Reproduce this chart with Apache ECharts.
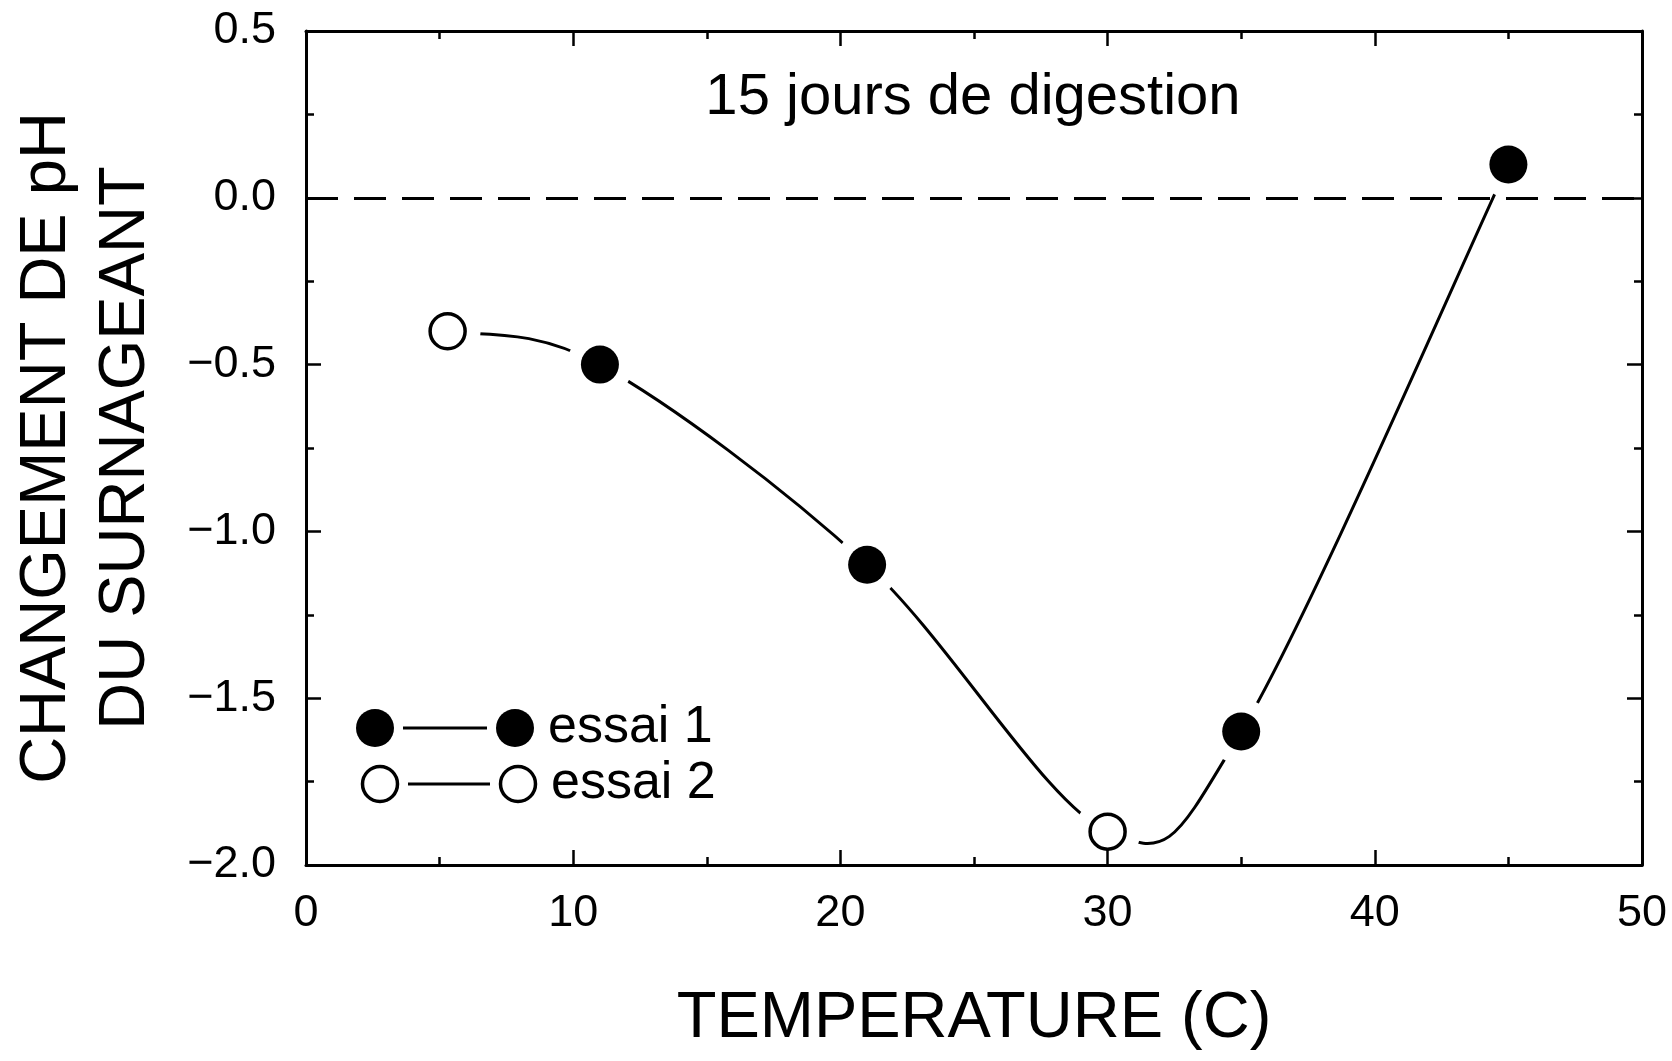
<!DOCTYPE html>
<html>
<head>
<meta charset="utf-8">
<title>Changement de pH du surnageant</title>
<script src="https://cdn.jsdelivr.net/npm/echarts@6/dist/echarts.min.js"></script>
<style>
  html, body { margin: 0; padding: 0; background: #fff; }
  #chart { width: 1672px; height: 1061px; }
</style>
</head>
<body>
<div id="chart"></div>
<script>
// Runs: temperature (°C) and change of supernatant pH
const temperatureEssai1 = [11, 21, 35, 45];
const phEssai1 = [-0.5, -1.1, -1.6, 0.1];
const temperatureEssai2 = [5.3, 30];
const phEssai2 = [-0.4, -1.9];

const seriesNames = ['essai 1', 'essai 2'];
const titleText = '15 jours de digestion';
const xAxisName = 'TEMPERATURE (C)';
const yAxisName = 'CHANGEMENT DE pH\nDU SURNAGEANT';

const FONT = '"Liberation Sans", Arial, sans-serif';

const essai1 = temperatureEssai1.map((t, i) => [t, phEssai1[i]]);
const essai2 = temperatureEssai2.map((t, i) => [t, phEssai2[i]]);
// the fitted curve passes through both runs, ordered by temperature
const curvePoints = essai1.concat(essai2).sort((a, b) => a[0] - b[0]);

// Catmull-Rom segment between point i and i+1, drawn as a cubic Bezier
function renderCurveSegment(params, api) {
  const i = params.dataIndex;
  const n = curvePoints.length;
  if (i >= n - 1) return null;
  const p0 = api.coord(curvePoints[Math.max(i - 1, 0)]);
  const p1 = api.coord(curvePoints[i]);
  const p2 = api.coord(curvePoints[i + 1]);
  const p3 = api.coord(curvePoints[Math.min(i + 2, n - 1)]);
  return {
    type: 'bezierCurve',
    shape: {
      x1: p1[0], y1: p1[1],
      x2: p2[0], y2: p2[1],
      cpx1: p1[0] + (p2[0] - p0[0]) / 6,
      cpy1: p1[1] + (p2[1] - p0[1]) / 6,
      cpx2: p2[0] - (p3[0] - p1[0]) / 6,
      cpy2: p2[1] - (p3[1] - p1[1]) / 6
    },
    style: { stroke: '#000', lineWidth: 3, fill: null, lineCap: 'round' }
  };
}

const axisLineStyle = { show: true, onZero: false, lineStyle: { color: '#000', width: 3 } };
const majorTick = { show: true, inside: true, length: 15, lineStyle: { color: '#000', width: 2.5 } };
const minorTick = { show: true, splitNumber: 2, length: 8, lineStyle: { color: '#000', width: 2.5 } };

function xAxisDef(position, withLabels) {
  return {
    type: 'value', min: 0, max: 50, interval: 10, position: position,
    axisLine: axisLineStyle, axisTick: majorTick, minorTick: minorTick,
    splitLine: { show: false }, minorSplitLine: { show: false },
    axisLabel: { show: withLabels, margin: 26, fontSize: 45, color: '#000', fontFamily: FONT },
    name: withLabels ? xAxisName : '',
    nameLocation: 'middle', nameGap: 122,
    nameTextStyle: { fontSize: 65, color: '#000', fontFamily: FONT },
    z: 10
  };
}

function yAxisDef(position, withLabels) {
  return {
    type: 'value', min: -2, max: 0.5, interval: 0.5, position: position,
    axisLine: axisLineStyle, axisTick: majorTick, minorTick: minorTick,
    splitLine: { show: false }, minorSplitLine: { show: false },
    axisLabel: {
      show: withLabels, margin: 30, fontSize: 45, color: '#000', fontFamily: FONT,
      formatter: v => v.toFixed(1).replace('-', '\u2212')
    },
    name: withLabels ? yAxisName : '',
    nameLocation: 'middle', nameGap: 140, nameRotate: 90,
    nameTextStyle: { fontSize: 65, lineHeight: 79, color: '#000', fontFamily: FONT, align: 'center' },
    z: 10
  };
}

// legend key: marker — line — marker, then the run name
function legendRow(y, filled, label) {
  const r = filled ? 19 : 17.5;
  const markerStyle = filled
    ? { fill: '#000' }
    : { fill: '#fff', stroke: '#000', lineWidth: 3.5 };
  const x0 = filled ? 375 : 380;
  const x1 = filled ? 515 : 518;
  return [
    { type: 'circle', shape: { cx: x0, cy: y, r: r }, style: markerStyle },
    { type: 'line', shape: { x1: x0 + 28, y1: y, x2: x1 - 28, y2: y }, style: { stroke: '#000', lineWidth: 3 } },
    { type: 'circle', shape: { cx: x1, cy: y, r: r }, style: markerStyle },
    { type: 'text', x: x1 + 33, y: y, style: { text: label, font: '52px ' + FONT, fill: '#000', align: 'left', verticalAlign: 'middle' } }
  ];
}

const chart = echarts.init(document.getElementById('chart'), null, { renderer: 'canvas' });

chart.setOption({
  animation: false,
  backgroundColor: '#fff',
  grid: { left: 304, right: 30, top: 31, bottom: 196 },
  xAxis: [xAxisDef('bottom', true), xAxisDef('top', false)],
  yAxis: [yAxisDef('left', true), yAxisDef('right', false)],
  graphic: [
    { type: 'text', x: 973, y: 98, style: { text: titleText, font: '58px ' + FONT, fill: '#000', align: 'center', verticalAlign: 'middle' } }
  ].concat(legendRow(728, true, seriesNames[0]), legendRow(784, false, seriesNames[1])),
  series: [
    {
      name: 'courbe',
      type: 'custom',
      coordinateSystem: 'cartesian2d',
      data: curvePoints,
      encode: { x: 0, y: 1 },
      renderItem: renderCurveSegment,
      silent: true,
      z: 2
    },
    {
      // white clearance ring around each point, breaking the curve near markers
      name: 'halo',
      type: 'scatter',
      data: curvePoints,
      symbol: 'circle',
      symbolSize: 66,
      itemStyle: { color: '#fff', opacity: 1 },
      emphasis: { disabled: true },
      silent: true,
      z: 3
    },
    {
      name: seriesNames[0],
      type: 'scatter',
      data: essai1,
      symbol: 'circle',
      symbolSize: 38,
      itemStyle: { color: '#000', opacity: 1 },
      emphasis: { disabled: true },
      z: 5,
      markLine: {
        silent: true,
        symbol: ['none', 'none'],
        label: { show: false },
        lineStyle: { color: '#000', width: 3, type: [32, 16], opacity: 1 },
        data: [{ yAxis: 0 }]
      }
    },
    {
      name: seriesNames[1],
      type: 'scatter',
      data: essai2,
      symbol: 'circle',
      symbolSize: 35,
      itemStyle: { color: '#fff', borderColor: '#000', borderWidth: 3.5, opacity: 1 },
      emphasis: { disabled: true },
      z: 5
    }
  ]
});
</script>
</body>
</html>
